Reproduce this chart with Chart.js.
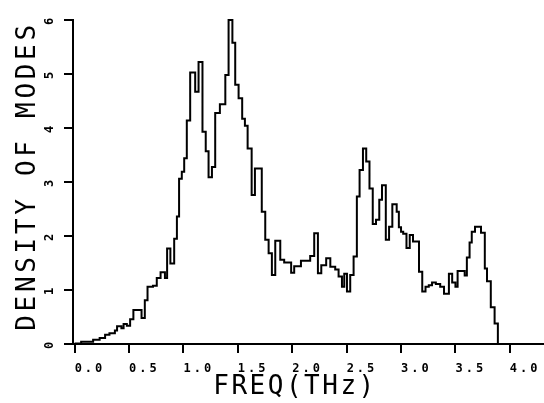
<!DOCTYPE html>
<html><head><meta charset="utf-8">
<script src="https://cdn.jsdelivr.net/npm/chart.js@4/dist/chart.umd.min.js"></script>
<style>html,body{margin:0;padding:0;background:#fff;}canvas{display:block}</style>
</head><body>
<canvas id="c" width="544" height="403"></canvas>
<script>
// Step start frequencies (THz) and density of modes for each step
const freqTHz = [0.000,0.060,0.170,0.230,0.280,0.320,0.370,0.390,0.430,0.450,0.480,0.510,0.540,0.615,0.645,0.670,0.720,0.755,0.790,0.830,0.850,0.880,0.915,0.940,0.960,0.985,1.007,1.031,1.062,1.108,1.139,1.175,1.205,1.231,1.262,1.292,1.335,1.385,1.415,1.450,1.476,1.507,1.540,1.565,1.590,1.627,1.657,1.720,1.752,1.783,1.813,1.844,1.890,1.926,1.990,2.018,2.080,2.165,2.202,2.236,2.267,2.312,2.350,2.395,2.426,2.457,2.478,2.503,2.533,2.564,2.594,2.619,2.650,2.680,2.710,2.740,2.770,2.800,2.825,2.860,2.890,2.920,2.960,2.980,3.000,3.020,3.050,3.080,3.110,3.165,3.195,3.225,3.255,3.285,3.320,3.360,3.395,3.440,3.470,3.500,3.520,3.585,3.605,3.630,3.650,3.680,3.735,3.770,3.790,3.825,3.860,3.890];
const density = [0.01,0.04,0.08,0.11,0.17,0.20,0.25,0.33,0.29,0.37,0.34,0.46,0.63,0.48,0.81,1.06,1.08,1.22,1.33,1.22,1.77,1.49,1.95,2.36,3.06,3.19,3.44,4.14,5.03,4.67,5.22,3.93,3.57,3.09,3.28,4.28,4.44,4.98,6.00,5.58,4.80,4.55,4.17,4.04,3.62,2.76,3.25,2.45,1.93,1.68,1.28,1.91,1.56,1.51,1.32,1.44,1.54,1.63,2.05,1.31,1.46,1.59,1.43,1.38,1.25,1.06,1.30,0.97,1.28,1.62,2.73,3.22,3.62,3.38,2.88,2.22,2.30,2.67,2.94,1.93,2.17,2.59,2.45,2.16,2.08,2.04,1.78,2.02,1.90,1.34,0.97,1.06,1.09,1.14,1.11,1.06,0.93,1.30,1.14,1.06,1.35,1.27,1.60,1.88,2.08,2.17,2.06,1.40,1.16,0.68,0.38,0];
const xTickValues = [0, 0.5, 1.0, 1.5, 2.0, 2.5, 3.0, 3.5, 4.0];
const yTickValues = [0, 1, 2, 3, 4, 5, 6];
const xTitle = 'FREQ(THz)';
const yTitle = 'DENSITY OF MODES';

const points = freqTHz.map((f, i) => ({x: f, y: density[i]}));

const titleFont = {family: 'DejaVu Sans Mono', size: 26, weight: 'normal', lineHeight: 1};
const tickFont = {family: 'DejaVu Sans Mono', size: 12, weight: 'bold', lineHeight: 1.2};
const TICK_SPACING = '3px';

const stylePlugin = {
  id: 'plotterStyle',
  beforeDraw(chart) { chart.ctx.letterSpacing = TICK_SPACING; },
  afterDraw(chart) { chart.ctx.letterSpacing = '0px'; },
  afterLayout(chart) {
    const sx = chart.scales.x, sy = chart.scales.y;
    if (!sx._wrappedTitle) {
      const orig = sx.drawTitle;
      sx.drawTitle = function () {
        const r = this.right;
        this.right = r - 27;
        this.ctx.letterSpacing = '2.5px';
        orig.call(this);
        this.ctx.letterSpacing = TICK_SPACING;
        this.right = r;
      };
      sx._wrappedTitle = true;
    }
    if (!sy._wrappedTitle) {
      const orig = sy.drawTitle;
      sy.drawTitle = function () {
        const t = this.top, b = this.bottom;
        this.top = t - 6; this.bottom = b - 6;
        this.ctx.letterSpacing = '3.7px';
        orig.call(this);
        this.ctx.letterSpacing = TICK_SPACING;
        this.top = t; this.bottom = b;
      };
      sy._wrappedTitle = true;
    }
  }
};

const gridOpts = {
  display: true, drawOnChartArea: false, drawTicks: true, tickLength: 9,
  color: '#000', lineWidth: 2, tickColor: '#000', tickWidth: 2
};

new Chart(document.getElementById('c'), {
  type: 'line',
  data: {
    datasets: [{
      data: points,
      stepped: true,
      borderColor: '#000',
      borderWidth: 2,
      pointRadius: 0,
      fill: false,
      clip: false
    }]
  },
  options: {
    responsive: false,
    animation: false,
    devicePixelRatio: 1,
    layout: {padding: {top: 20, right: 0, bottom: 0, left: 0}},
    plugins: {legend: {display: false}, tooltip: {enabled: false}},
    scales: {
      x: {
        type: 'linear',
        min: -0.015,
        max: 4.314,
        afterBuildTicks: s => { s.ticks = xTickValues.map(v => ({value: v})); },
        afterFit: s => { s.height = 59; },
        ticks: {
          color: '#000', font: tickFont, padding: 9, maxRotation: 0, minRotation: 0,
          align: 'start',
          callback: v => Number(v).toFixed(1)
        },
        grid: gridOpts,
        border: {display: true, color: '#000', width: 2},
        title: {display: true, text: xTitle, color: '#000', font: titleFont, padding: {top: 0, bottom: 3}}
      },
      y: {
        min: 0,
        max: 6,
        afterBuildTicks: s => { s.ticks = yTickValues.map(v => ({value: v})); },
        afterFit: s => { s.width = 73; },
        ticks: {
          color: '#000', font: tickFont, padding: 11, minRotation: 90, maxRotation: 90,
          crossAlign: 'center',
          callback: v => String(v)
        },
        grid: gridOpts,
        border: {display: true, color: '#000', width: 2},
        title: {display: true, text: yTitle, color: '#000', font: titleFont, padding: {top: 15, bottom: 0}}
      }
    }
  },
  plugins: [stylePlugin]
});
</script>
</body></html>
